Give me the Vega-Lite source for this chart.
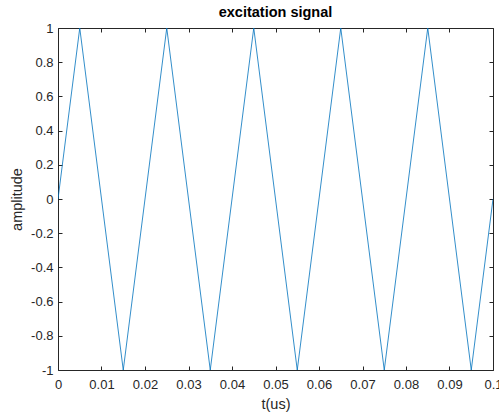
{
  "$schema": "https://vega.github.io/schema/vega-lite/v6.json",
  "autosize": "none",
  "width": 435,
  "height": 342,
  "padding": {"left": 58, "top": 28, "right": 6, "bottom": 45},
  "background": "white",
  "title": {"text": "excitation signal", "fontSize": 14.5, "fontWeight": "bold", "font": "Liberation Sans", "color": "#000000", "anchor": "middle", "offset": 2},
  "config": {"view": {"stroke": null}, "axis": {"labelFont": "Liberation Sans", "titleFont": "Liberation Sans", "labelFontSize": 13, "titleFontSize": 14.5, "labelColor": "#262626", "titleColor": "#262626", "domainColor": "#262626", "tickColor": "#262626", "grid": false, "titleFontWeight": "normal"}},
  "data": {"values": [
    {"t": 0, "a": 0},
    {"t": 0.005, "a": 1},
    {"t": 0.015, "a": -1},
    {"t": 0.025, "a": 1},
    {"t": 0.035, "a": -1},
    {"t": 0.045, "a": 1},
    {"t": 0.055, "a": -1},
    {"t": 0.065, "a": 1},
    {"t": 0.075, "a": -1},
    {"t": 0.085, "a": 1},
    {"t": 0.095, "a": -1},
    {"t": 0.1, "a": 0}
  ]},
  "layer": [
    {
      "mark": {"type": "line", "color": "#0072BD", "strokeWidth": 1, "strokeOpacity": 0.8, "clip": true},
      "encoding": {
        "x": {"field": "t", "type": "quantitative", "scale": {"domain": [0, 0.1], "nice": false, "zero": false},
          "axis": {"orient": "bottom", "title": "t(us)", "values": [0, 0.01, 0.02, 0.03, 0.04, 0.05, 0.06, 0.07, 0.08, 0.09, 0.1], "labelExpr": "datum.value + ''", "tickSize": -4, "labelPadding": 12, "titlePadding": 6, "labelFlush": false, "labelOverlap": false}},
        "y": {"field": "a", "type": "quantitative", "scale": {"domain": [-1, 1], "nice": false, "zero": false},
          "axis": {"orient": "left", "title": "amplitude", "values": [-1, -0.8, -0.6, -0.4, -0.2, 0, 0.2, 0.4, 0.6, 0.8, 1], "labelExpr": "datum.value + ''", "tickSize": -4, "labelPadding": 9, "titlePadding": 6, "labelFlush": false, "labelOverlap": false}}
      }
    },
    {
      "mark": {"type": "line", "opacity": 0},
      "encoding": {
        "x": {"field": "t", "type": "quantitative", "scale": {"domain": [0, 0.1], "nice": false, "zero": false},
          "axis": {"orient": "top", "title": null, "labels": false, "values": [0, 0.01, 0.02, 0.03, 0.04, 0.05, 0.06, 0.07, 0.08, 0.09, 0.1], "tickSize": -4}},
        "y": {"field": "a", "type": "quantitative", "scale": {"domain": [-1, 1], "nice": false, "zero": false},
          "axis": {"orient": "right", "title": null, "labels": false, "values": [-1, -0.8, -0.6, -0.4, -0.2, 0, 0.2, 0.4, 0.6, 0.8, 1], "tickSize": -4}}
      }
    }
  ],
  "resolve": {"axis": {"x": "independent", "y": "independent"}}
}
